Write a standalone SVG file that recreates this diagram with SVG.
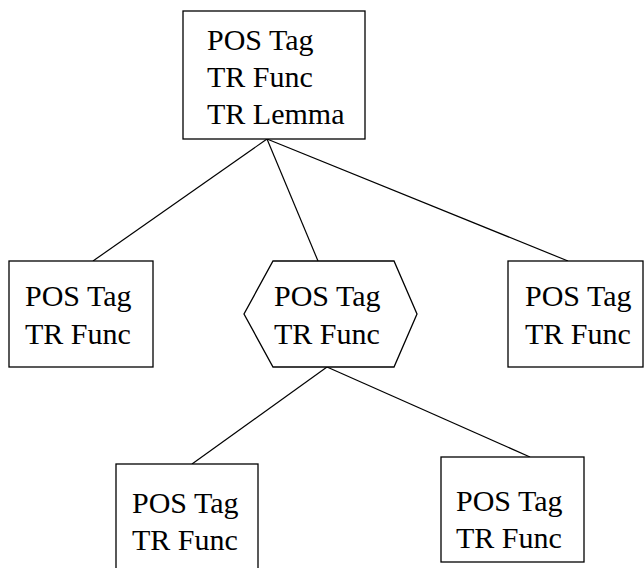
<svg xmlns="http://www.w3.org/2000/svg" width="644" height="568" viewBox="0 0 644 568">
  <style>
    .shape { fill: #ffffff; stroke: #000000; stroke-width: 1.3; }
    .edge { stroke: #000000; stroke-width: 1.2; fill: none; }
    .label { font-size: 30px; fill: #000000; }
  </style>
  <rect width="644" height="568" fill="#ffffff"/>

  <!-- tree edges -->
  <g id="connectors">
    <line class="edge" x1="267" y1="139" x2="93" y2="261"/>
    <line class="edge" x1="267" y1="139" x2="318" y2="261"/>
    <line class="edge" x1="267" y1="139" x2="568" y2="261"/>
    <line class="edge" x1="327" y1="367" x2="192" y2="464"/>
    <line class="edge" x1="327" y1="367" x2="530" y2="457"/>
  </g>

  <g font-family="Liberation Serif, DejaVu Serif, serif">
    <!-- root -->
    <g id="root">
      <rect class="shape" x="183" y="11" width="182" height="128"/>
      <text class="label" x="207" y="50">POS Tag</text>
      <text class="label" x="207" y="87">TR Func</text>
      <text class="label" x="207" y="124">TR Lemma</text>
    </g>

    <!-- second level -->
    <g id="left">
      <rect class="shape" x="9" y="261" width="144" height="106"/>
      <text class="label" x="25" y="306">POS Tag</text>
      <text class="label" x="25" y="344">TR Func</text>
    </g>

    <g id="middle">
      <polygon class="shape" points="273,261 394,261 417,314 394,367 273,367 244,314"/>
      <text class="label" x="274" y="306">POS Tag</text>
      <text class="label" x="274" y="344">TR Func</text>
    </g>

    <g id="right">
      <rect class="shape" x="508" y="261" width="135" height="106"/>
      <text class="label" x="525" y="306">POS Tag</text>
      <text class="label" x="525" y="344">TR Func</text>
    </g>

    <!-- third level -->
    <g id="bottom-left">
      <rect class="shape" x="116" y="464" width="142" height="120"/>
      <text class="label" x="132" y="513">POS Tag</text>
      <text class="label" x="132" y="550">TR Func</text>
    </g>

    <g id="bottom-right">
      <rect class="shape" x="441" y="457" width="143" height="105"/>
      <text class="label" x="456" y="511">POS Tag</text>
      <text class="label" x="456" y="548">TR Func</text>
    </g>
  </g>
</svg>
